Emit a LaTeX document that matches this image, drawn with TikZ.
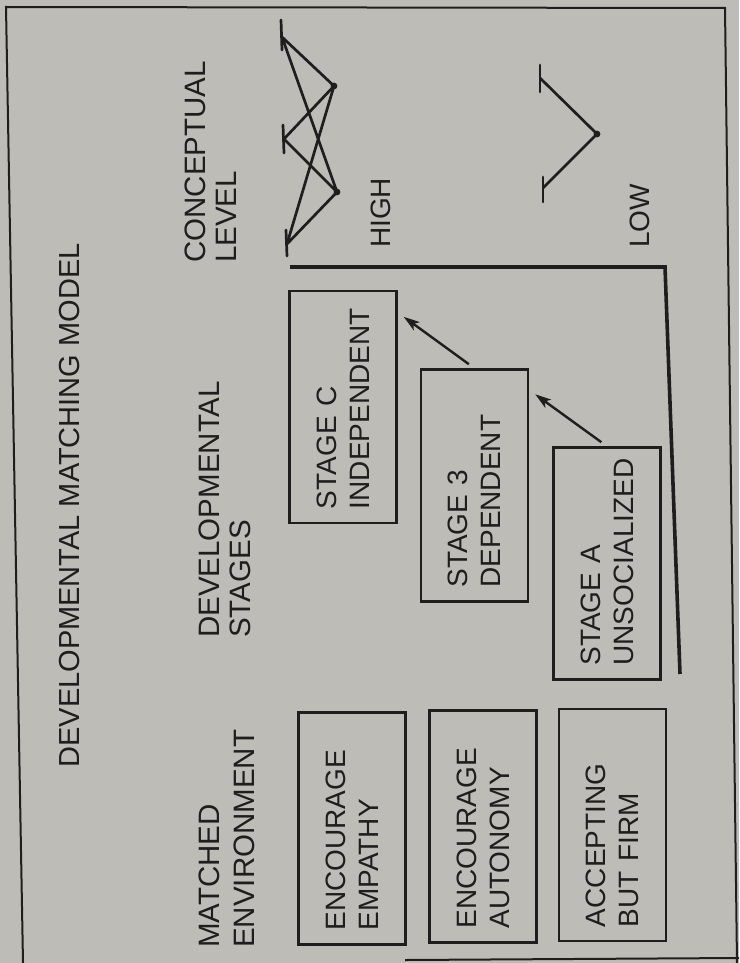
\documentclass[tikz,border=0pt]{standalone}
\usepackage{fontspec}
\setmainfont{Liberation Sans}
\usetikzlibrary{arrows.meta,calc}
\definecolor{paper}{RGB}{189,188,182}
\definecolor{ink}{RGB}{30,30,30}
\begin{document}
\begin{tikzpicture}[x=1pt,y=-1pt,
  lbl/.style={rotate=90, anchor=base west, inner sep=0pt, text=ink, font=\fontsize{29.5}{35}\selectfont},
  smalllbl/.style={rotate=90, anchor=base west, inner sep=0pt, text=ink, font=\fontsize{28}{33}\selectfont},
  stagebox/.style={draw=ink, line width=2.4pt, rotate=90, minimum width=232pt, minimum height=107pt,
    text width=204pt, inner xsep=14pt, inner ysep=0pt, align=left, text=ink, font=\fontsize{28}{33}\selectfont},
  arr/.style={draw=ink, line width=2.4pt, -{Stealth[open,length=16pt,width=10pt,inset=4pt]}, shorten <=7pt},
  wire/.style={draw=ink, line width=2.7pt, line cap=round, line join=round},
  framing/.style={draw=ink, line width=2pt},
  bar/.style={draw=ink, line width=3.6pt}]
\useasboundingbox (0,0) rectangle (739,963);
\fill[paper] (0,0) rectangle (739,963);
% outer frame
\coordinate (f1) at (6,7);
\coordinate (f2) at (725,8);
\coordinate (f3) at (737,963);
\coordinate (f4) at (23,963);
\draw[framing] (f4) -- (f1) -- (f2) -- (f3);
\coordinate (b1) at (405,960);
\coordinate (b2) at (739,958);
\draw[framing] (b1) -- (b2);
% title
\node[rotate=90, anchor=base, inner sep=0pt, text=ink, font=\fontsize{29}{35}\selectfont] (title) at (79,505.5) {DEVELOPMENTAL MATCHING MODEL};
% headers
\node[lbl] (h1a) at (219,948) {MATCHED};
\node[lbl] (h1b) at (254,948) {ENVIRONMENT};
\node[lbl] (h2a) at (219,638) {DEVELOPMENTAL};
\node[lbl] (h2b) at (250,638) {STAGES};
\node[lbl] (h3a) at (205,263) {CONCEPTUAL};
\node[lbl] (h3b) at (236,263) {LEVEL};
% environment boxes
\node[stagebox] (envE) at (352,828.5) {ENCOURAGE\\EMPATHY};
\node[stagebox] (envA) at (483,826.5) {ENCOURAGE\\AUTONOMY};
\node[stagebox] (envF) at (612.5,825) {ACCEPTING\\BUT FIRM};
% stage boxes
\node[stagebox] (sC) at (343,407) {STAGE C\\INDEPENDENT};
\node[stagebox] (s3) at (474.5,485.5) {STAGE 3\\DEPENDENT};
\node[stagebox] (sA) at (607,563.5) {STAGE A\\UNSOCIALIZED};
% arrows between stages
\draw[arr] (sA.east) -- ([xshift=6pt,yshift=-26pt]s3.south east);
\draw[arr] (s3.east) -- ([xshift=6pt,yshift=-27pt]sC.south east);
% L-shaped bar
\coordinate (l1) at (290,267);
\coordinate (l2) at (665,267);
\coordinate (l3) at (680,674);
\draw[bar] (l1) -- (l2) -- (l3);
% HIGH figure
\coordinate (T1) at (282,37);
\coordinate (T2) at (284,139);
\coordinate (T3) at (287,244);
\coordinate (D1) at (334,86);
\coordinate (D2) at (337,192);
\draw[wire] (281,20) -- (282,50);
\draw[wire] (283,125) -- (284,153);
\draw[wire] (286,230) -- (287,256);
\draw[wire] (T1) -- (D1) -- (T2) -- (D2) -- (T1);
\draw[wire] (D1) -- (T3) -- (D2);
\fill[ink] (D1) circle (3.4pt);
\fill[ink] (D2) circle (3.4pt);
\node[smalllbl] (high) at (390,248) {HIGH};
% LOW figure
\coordinate (U1) at (540,78);
\coordinate (U2) at (543,188);
\coordinate (V) at (597,134);
\draw[wire] (540,65) -- (540,92);
\draw[wire] (543,177) -- (543,202);
\draw[wire] (U1) -- (V) -- (U2);
\fill[ink] (V) circle (3.4pt);
\node[smalllbl] (low) at (649,248) {LOW};
\end{tikzpicture}
\end{document}
